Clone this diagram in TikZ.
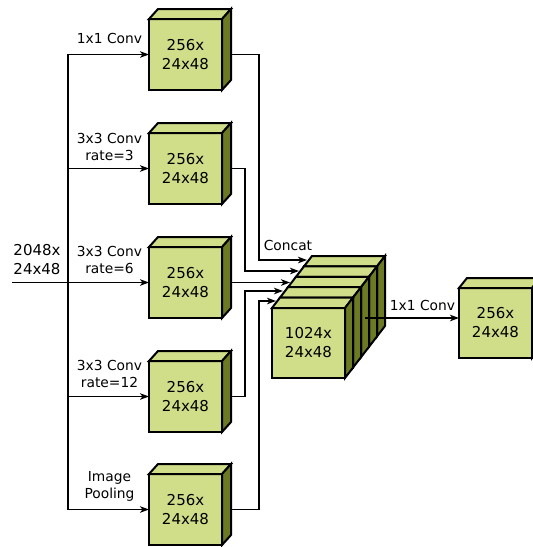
\documentclass[tikz,border=0pt]{standalone}
\usepackage{fontspec}
\setmainfont{DejaVu Sans}
\usetikzlibrary{arrows.meta,calc}
\definecolor{facegreen}{RGB}{208,222,138}
\definecolor{sidegreen}{RGB}{107,122,35}
\tikzset{
  blockface/.style={draw=black, fill=facegreen, line width=2pt,
    minimum width=73pt, inner sep=0pt, outer sep=0pt,
    align=center, font=\fontsize{15}{19}\selectfont},
  sideface/.style={draw=black, fill=sidegreen, line width=2pt},
  topface/.style={draw=black, fill=facegreen, line width=2pt},
  wire/.style={draw=black, line width=1.8pt, line cap=rect},
  feed/.style={wire, -{Stealth[length=9pt,width=6.5pt,inset=2.5pt]}},
  lbl/.style={align=center, font=\fontsize{13.8}{17}\selectfont, inner sep=0pt},
}
% #1 name, #2 left x, #3 top y, #4/#5 depth offset, #6 height, #7 text
\newcommand\blk[7]{%
  \node[blockface, minimum height=#6pt, anchor=north west] (#1) at (#2,#3) {#7};
  \filldraw[topface] (#1.north west) -- ++(#4,#5)
     -- ([shift={(#4,#5)}]#1.north east) -- (#1.north east) -- cycle;
  \filldraw[sideface] (#1.north east) -- ++(#4,#5)
     -- ([shift={(#4,#5)}]#1.south east) -- (#1.south east) -- cycle;
}
\begin{document}
\begin{tikzpicture}[x=1pt,y=-1pt]
\useasboundingbox (0,0) rectangle (533,547);
\clip (0,0) rectangle (533,547);

% parallel branches
\blk{c1}{149}{19}{9}{-10}{71}{256x\\24x48}
\blk{c2}{149}{133}{9}{-10}{71}{256x\\24x48}
\blk{c3}{149}{247}{9}{-10}{71}{256x\\24x48}
\blk{c4}{149}{361}{9}{-10}{71}{256x\\24x48}
\blk{c5}{149}{474}{9}{-10}{71}{256x\\24x48}

% concatenated stack, back to front
\blk{s4}{304}{266.4}{8}{-10.4}{70}{}
\blk{s3}{296}{276.8}{8}{-10.4}{70}{}
\blk{s2}{288}{287.2}{8}{-10.4}{70}{}
\blk{s1}{280}{297.6}{8}{-10.4}{70}{}
\blk{s0}{272}{308}{8}{-10.4}{70}{1024x\\24x48}

% output block
\blk{out}{459}{288}{8}{-10}{70}{256x\\24x48}

% input and distribution bus
\node[lbl, font=\fontsize{15}{19}\selectfont] (inlab) at (37,259.5) {2048x\\24x48};
\coordinate (in) at (c3.west -| 13,0);
\coordinate (b1) at (c1.west -| 68,0);
\coordinate (b2) at (c2.west -| 68,0);
\coordinate (b3) at (c3.west -| 68,0);
\coordinate (b4) at (c4.west -| 68,0);
\coordinate (b5) at (c5.west -| 68,0);
\draw[wire] (b1) -- (b5);
\draw[feed] (in) -- (c3.west);
\draw[feed] (b1) -- (c1.west);
\draw[feed] (b2) -- (c2.west);
\draw[feed] (b4) -- (c4.west);
\draw[feed] (b5) -- (c5.west);

% branch labels
\node[lbl] (lab1) at (109.5,38) {1x1 Conv};
\node[lbl] (lab2) at (109.5,146.5) {3x3 Conv\\rate=3};
\node[lbl] (lab3) at (109.5,259.5) {3x3 Conv\\rate=6};
\node[lbl] (lab4) at (109.5,374) {3x3 Conv\\rate=12};
\node[lbl] (lab5) at (109.5,486.5) {Image\\Pooling};

% routing into the stack
\coordinate (r1) at (259,260); \coordinate (k1) at (307,260);
\coordinate (r2) at (245,271); \coordinate (k2) at (299,271);
\coordinate (k3) at (c3.east -| 290,0);
\coordinate (r4) at (245,291); \coordinate (k4) at (283,291);
\coordinate (r5) at (259,301); \coordinate (k5) at (276,301);
\draw[feed] ([xshift=9]c1.east) -| (r1) -- (k1);
\draw[feed] ([xshift=9]c2.east) -| (r2) -- (k2);
\draw[feed] ([xshift=9]c3.east) -- (k3);
\draw[feed] ([xshift=9]c4.east) -| (r4) -- (k4);
\draw[feed] ([xshift=9]c5.east) -| (r5) -- (k5);
\node[lbl] (concat) at (288,245) {Concat};

% final projection
\coordinate (sx) at (366,318);
\draw[feed] (sx) -- (sx -| out.west);
\node[lbl] (lab6) at (422.5,305) {1x1 Conv};
\end{tikzpicture}
\end{document}
